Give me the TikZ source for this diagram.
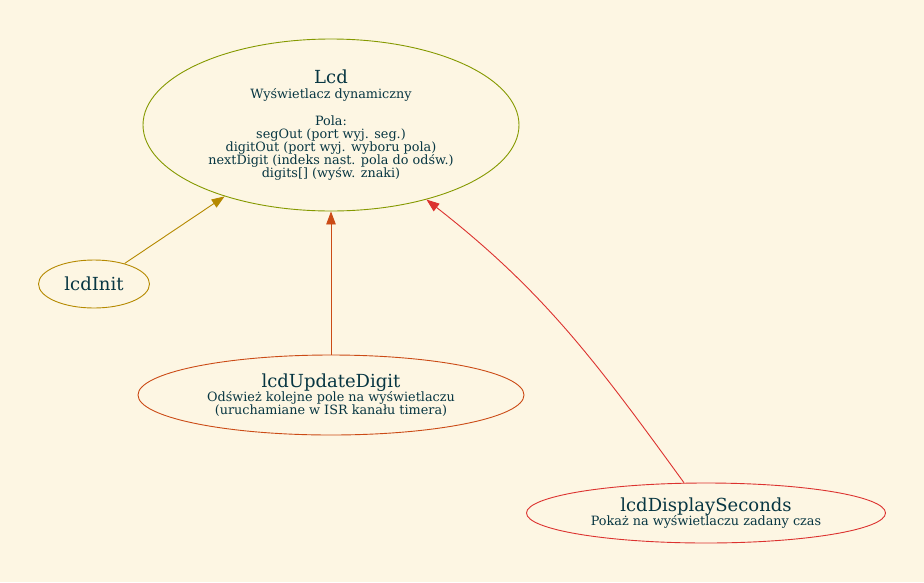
\documentclass[tikz,border=0pt]{standalone}
\usepackage{fontspec}
\setmainfont{DejaVu Serif}
\usetikzlibrary{arrows.meta,shapes.geometric}
\definecolor{cream}{HTML}{FDF6E3}
\definecolor{ink}{HTML}{073642}
\definecolor{olive}{HTML}{859900}
\definecolor{ochre}{HTML}{B58900}
\definecolor{rust}{HTML}{CB4B16}
\definecolor{scarlet}{HTML}{DC322F}
\newcommand{\ttl}[1]{{\fontsize{18}{16}\selectfont #1}}
\newcommand{\fnfont}{\fontsize{12.8}{13}\selectfont\setlength{\lineskiplimit}{-20pt}}
\tikzset{fn/.style={ellipse,draw,line width=0.9pt,inner sep=0pt,align=center,text=ink,font=\fnfont},arr/.style={-{Triangle[length=13pt,width=9.5pt]},line width=0.9pt}}

\begin{document}
\begin{tikzpicture}[x=1pt,y=-1pt]
\fill[cream] (0,0) rectangle (924,582);
\useasboundingbox (0,0) rectangle (924,582);
\node[fn,draw=olive,minimum width=376pt,minimum height=172pt] (lcd) at (331,125) {\ttl{Lcd}\\[1.6pt]Wyświetlacz dynamiczny\\[14pt]Pola:\\segOut (port wyj. seg.)\\digitOut (port wyj. wyboru pola)\\nextDigit (indeks nast. pola do odśw.)\\digits[] (wyśw. znaki)};
\node[fn,draw=ochre,minimum width=111pt,minimum height=48pt] (init) at (94,284) {\ttl{lcdInit}};
\node[fn,draw=rust,minimum width=386pt,minimum height=80pt] (upd) at (331,395) {\ttl{lcdUpdateDigit}\\[1.6pt]Odśwież kolejne pole na wyświetlaczu\\(uruchamiane w ISR kanału timera)};
\node[fn,draw=scarlet,minimum width=359pt,minimum height=60pt] (secs) at (706,513) {\ttl{lcdDisplaySeconds}\\[1.6pt]Pokaż na wyświetlaczu zadany czas};
\draw[arr,draw=ochre] (init)--(lcd);
\draw[arr,draw=rust] (upd)--(lcd);
\draw[arr,draw=scarlet] (secs) to[out=126,in=-38] (lcd);
\end{tikzpicture}
\end{document}
